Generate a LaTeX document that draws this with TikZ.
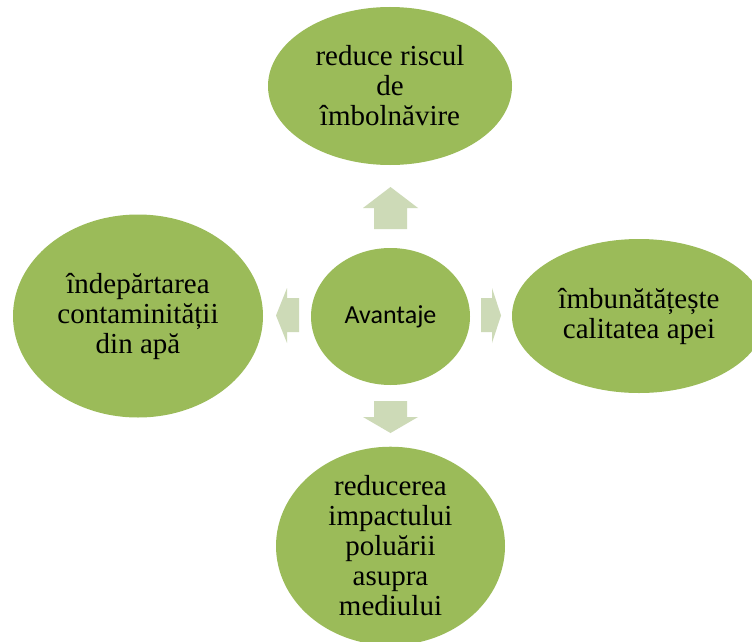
\documentclass[tikz,border=0pt]{standalone}
\usepackage{fontspec}
\setmainfont{Liberation Serif}
\newfontfamily\calib{Carlito}
\usetikzlibrary{shapes.geometric}
\definecolor{olive}{RGB}{155,187,89}
\definecolor{paleolive}{RGB}{205,218,183}
\tikzset{
  bubble/.style={ellipse, fill=olive, inner sep=0pt, align=center, text=black,
    font=\fontsize{29}{30}\selectfont},
  blockarrow/.style={fill=paleolive, draw=none}
}
\begin{document}
\begin{tikzpicture}[x=1pt,y=-1pt]
\useasboundingbox (0,0) rectangle (752,642);
\fill[white] (0,0) rectangle (752,642);
\node[bubble, minimum width=244pt, minimum height=158pt] (top) at (390,86) {reduce riscul\\de\\îmbolnăvire};
\node[bubble, minimum width=159pt, minimum height=137pt, font=\calib\fontsize{26}{30}\selectfont] (center) at (390.5,316.5) {Avantaje};
\node[bubble, minimum width=250pt, minimum height=203pt] (left) at (138,316) {îndepărtarea\\contaminității\\din apă};
\node[bubble, minimum width=254pt, minimum height=154pt] (right) at (639,316) {îmbunătățește\\calitatea apei};
\node[bubble, minimum width=229pt, minimum height=188pt] (bottom) at (390.5,546) {reducerea\\impactului\\poluării\\asupra\\mediului};
% up arrow
\fill[blockarrow] (374,229) -- (374,208) -- (363,208) -- (390.5,187) -- (418,208) -- (407,208) -- (407,229) -- cycle;
% down arrow
\fill[blockarrow] (374,401) -- (374,417) -- (363,417) -- (390.5,433) -- (418,417) -- (407,417) -- (407,401) -- cycle;
% left arrow
\fill[blockarrow] (299,298) -- (287,298) -- (287,288) -- (276,315.5) -- (287,343) -- (287,332) -- (299,332) -- cycle;
% right arrow
\fill[blockarrow] (481,298) -- (492,298) -- (492,288) -- (501,315.5) -- (492,343) -- (492,332) -- (481,332) -- cycle;
\end{tikzpicture}
\end{document}
